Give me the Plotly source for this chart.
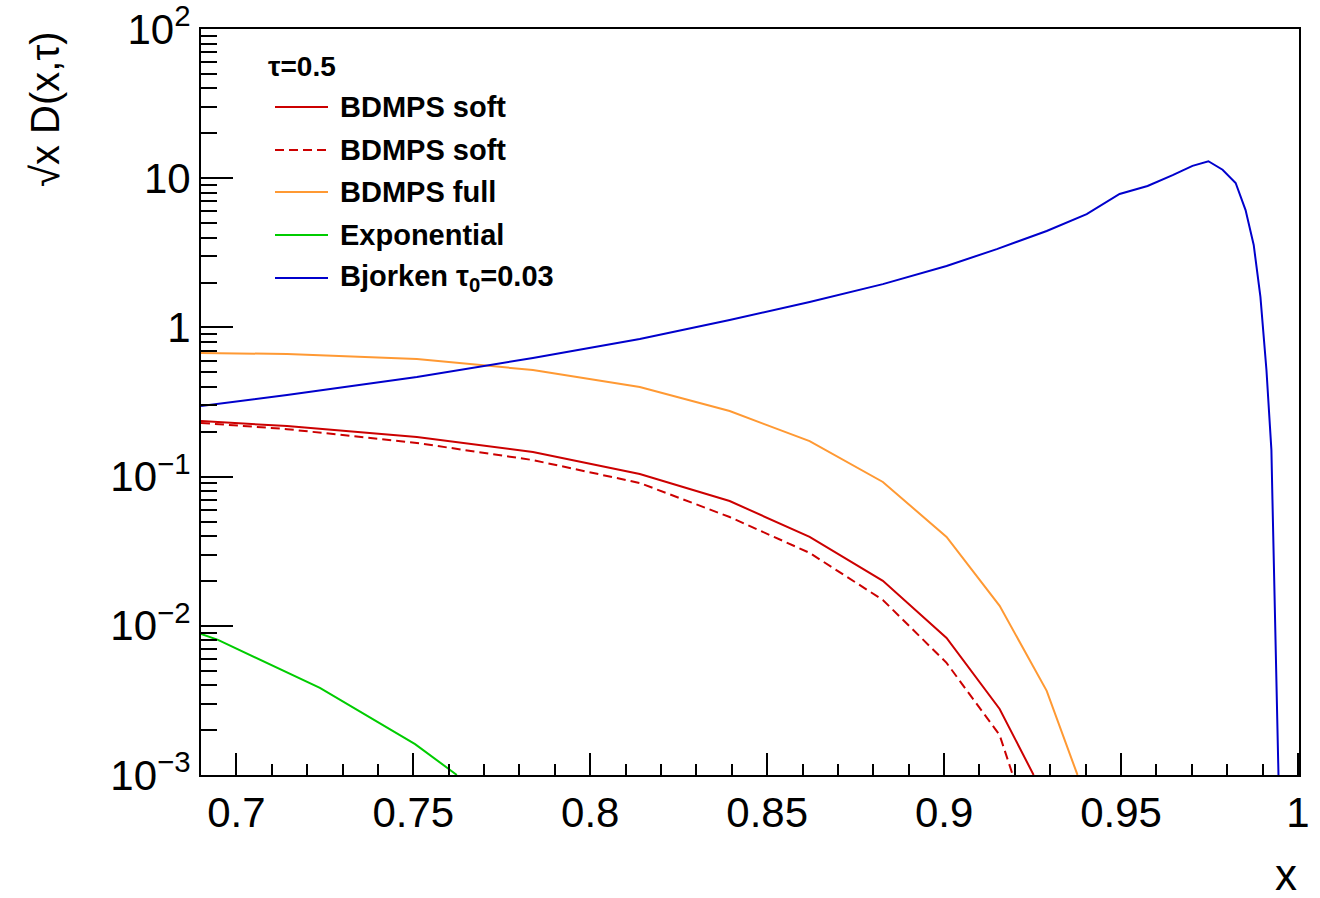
import plotly.graph_objects as go

# ---------------- data ----------------
bjorken_x = [0.690, 0.7143, 0.751, 0.7838, 0.814, 0.8394, 0.862, 0.8827, 0.9007, 0.9149,
             0.929, 0.9403, 0.9496, 0.9575, 0.9646, 0.9702, 0.9747, 0.9787, 0.9824, 0.9852,
             0.9875, 0.9894, 0.9911, 0.9925, 0.9928, 0.9945]
bjorken_y = [0.297, 0.352, 0.465, 0.624, 0.836, 1.12, 1.48, 1.95, 2.58, 3.35,
             4.43, 5.75, 7.84, 8.87, 10.5, 12.1, 13.0, 11.4, 9.29, 6.12,
             3.57, 1.60, 0.518, 0.151, 0.0697, 0.001]

full_x = [0.690, 0.7143, 0.751, 0.7838, 0.814, 0.8394, 0.862, 0.8827, 0.9007, 0.9157, 0.929, 0.9377]
full_y = [0.673, 0.664, 0.614, 0.518, 0.399, 0.275, 0.173, 0.092, 0.0394, 0.0136, 0.00366, 0.001]

soft_x = [0.690, 0.7143, 0.751, 0.7838, 0.814, 0.8394, 0.862, 0.8827, 0.9007, 0.9157, 0.9253]
soft_y = [0.236, 0.218, 0.184, 0.146, 0.104, 0.0686, 0.0394, 0.0200, 0.00828, 0.00277, 0.001]

soft2_x = [0.690, 0.7143, 0.751, 0.7838, 0.814, 0.8394, 0.862, 0.8827, 0.9007, 0.9157, 0.9194]
soft2_y = [0.229, 0.208, 0.168, 0.129, 0.0906, 0.0536, 0.0308, 0.0149, 0.00564, 0.00185, 0.001]

expo_x = [0.690, 0.6948, 0.7236, 0.7505, 0.7623]
expo_y = [0.00881, 0.00804, 0.00383, 0.00161, 0.001]

x_tickvals = [0.7, 0.75, 0.8, 0.85, 0.9, 0.95, 1.0]
x_ticktext = ["0.7", "0.75", "0.8", "0.85", "0.9", "0.95", "1"]
y_tickvals = [1e-3, 1e-2, 1e-1, 1, 10, 100]
y_ticktext = ["10<sup>\u22123</sup>", "10<sup>\u22122</sup>", "10<sup>\u22121</sup>", "1", "10", "10<sup>2</sup>"]

legend_header = "\u03c4=0.5"
legend_labels = ["BDMPS soft", "BDMPS soft", "BDMPS full", "Exponential",
                 "Bjorken \u03c4<sub>0</sub>=0.03"]

RED = "#cc0000"
ORANGE = "#ff9933"
GREEN = "#00cc00"
BLUE = "#0000cc"

series = [
    (soft_x, soft_y, RED, "solid"),
    (soft2_x, soft2_y, RED, "9px,5px"),
    (full_x, full_y, ORANGE, "solid"),
    (expo_x, expo_y, GREEN, "solid"),
    (bjorken_x, bjorken_y, BLUE, "solid"),
]

FONT = "Liberation Sans, Arial, Helvetica, sans-serif"

fig = go.Figure()
for (xs, ys, col, dash), name in zip(series, legend_labels):
    fig.add_trace(go.Scatter(x=xs, y=ys, mode="lines", name=name,
                             line=dict(color=col, width=2, dash=dash),
                             showlegend=False))

# minor ticks
x_minor = [round(0.69 + 0.01 * i, 2) for i in range(32)]
y_minor = []
for e in range(-3, 2):
    for m in range(2, 10):
        y_minor.append(m * 10 ** e)

L, R, T, B = 201, 21, 29, 123
W, H = 1320, 898
pw, ph = W - L - R, H - T - B

def px2paper_x(px):
    return (px - L) / pw

def px2paper_y(py):
    return (H - B - py) / ph

fig.update_layout(
    width=W, height=H,
    margin=dict(l=L, r=R, t=T, b=B, autoexpand=False),
    paper_bgcolor="white", plot_bgcolor="white",
    font=dict(family=FONT, color="black"),
    xaxis=dict(range=[0.69, 1.0003], showgrid=False, zeroline=False, automargin=False,
               showline=True, linecolor="black", linewidth=2, mirror=True,
               ticks="inside", ticklen=22, tickwidth=2, tickcolor="black",
               tickvals=x_tickvals, ticktext=x_ticktext,
               ticklabeloverflow="allow",
               tickfont=dict(size=42, family=FONT),
               minor=dict(tickvals=x_minor, ticks="inside", ticklen=11,
                          tickwidth=2, tickcolor="black", showgrid=False)),
    yaxis=dict(type="log", range=[-3.0003, 2.0003], showgrid=False, zeroline=False,
               automargin=False,
               showline=True, linecolor="black", linewidth=2, mirror=True,
               ticks="inside", ticklen=32, tickwidth=2, tickcolor="black",
               tickvals=y_tickvals, ticktext=y_ticktext,
               ticklabeloverflow="allow",
               tickfont=dict(size=42, family=FONT),
               minor=dict(tickvals=y_minor, ticks="inside", ticklen=16,
                          tickwidth=2, tickcolor="black", showgrid=False)),
)

ann = []
# axis titles
ann.append(dict(text="\u221ax D(x,\u03c4)", xref="paper", yref="paper",
                x=px2paper_x(45), y=1.0, xanchor="center", yanchor="top",
                textangle=-90, showarrow=False, font=dict(size=40, family=FONT)))
ann.append(dict(text="x", xref="paper", yref="paper",
                x=px2paper_x(1299), y=px2paper_y(874), xanchor="right", yanchor="middle",
                showarrow=False, font=dict(size=44, family=FONT)))
# legend
ann.append(dict(text="<b>" + legend_header + "</b>", xref="paper", yref="paper",
                x=px2paper_x(266), y=px2paper_y(66), xanchor="left", yanchor="middle",
                showarrow=False, font=dict(size=28, family=FONT)))
row_y = [107, 150, 192, 235, 278]
shapes = []
for (xs, ys, col, dash), name, ry in zip(series, legend_labels, row_y):
    ann.append(dict(text="<b>" + name + "</b>", xref="paper", yref="paper",
                    x=px2paper_x(338), y=px2paper_y(ry), xanchor="left", yanchor="middle",
                    showarrow=False, font=dict(size=29, family=FONT)))
    shapes.append(dict(type="line", xref="paper", yref="paper",
                       x0=px2paper_x(275), x1=px2paper_x(328),
                       y0=px2paper_y(ry), y1=px2paper_y(ry),
                       line=dict(color=col, width=2, dash=dash)))

fig.update_layout(annotations=ann, shapes=shapes)

fig.write_html("out.html")
